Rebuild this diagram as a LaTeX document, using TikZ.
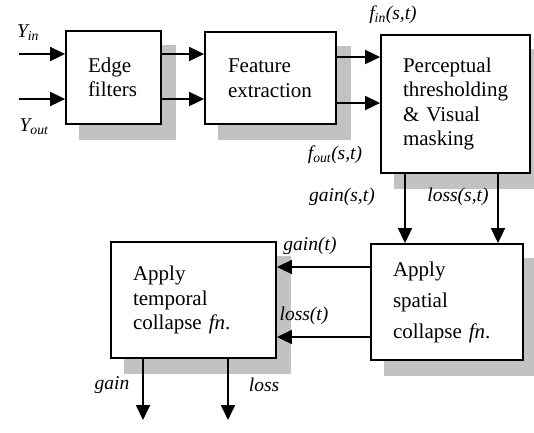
\documentclass[tikz,border=0pt]{standalone}
\usepackage{fontspec}
\setmainfont{Liberation Serif}
\usetikzlibrary{arrows.meta,backgrounds}
\begin{document}
\begin{tikzpicture}[x=1pt,y=-1pt,
  blk/.style={draw,line width=1.8pt,fill=white,align=left,inner xsep=22pt,inner ysep=0pt,
    font=\fontsize{21}{24.5}\selectfont},
  shad/.style={fill=black!24},
  arr/.style={line width=1.8pt,-{Triangle[length=15pt,width=14pt]}},
  lab/.style={font=\fontsize{19.5}{22}\selectfont\itshape,inner sep=0pt}]
\useasboundingbox (0,0) rectangle (534,432);
% boxes
\node[blk,minimum width=95pt,minimum height=93pt,text width=51pt,inner xsep=22pt] (edge) at (113.5,77.5) {Edge\\filters};
\node[blk,minimum width=131pt,minimum height=92pt,text width=85pt,inner xsep=23pt] (feat) at (270.5,78) {Feature\\extraction};
\node[blk,minimum width=149pt,minimum height=138pt,text width=105pt] (perc) at (455.5,104) {Perceptual\\thresholding\\\& Visual\\masking};
\node[blk,minimum width=165pt,minimum height=116pt,text width=121pt] (temp) at (193.5,300) {Apply\\temporal\\collapse \textit{fn}.};
\node[blk,minimum width=152pt,minimum height=116pt,text width=108pt,font=\fontsize{21}{31}\selectfont] (spat) at (447,302) {Apply\\spatial\\collapse \textit{fn}.};
% shadows
\begin{scope}[on background layer]
\foreach \n in {edge,feat,perc,temp,spat}
  \fill[shad] ([shift={(14,15)}]\n.north west) rectangle ([shift={(14,15)}]\n.south east);
\end{scope}
% coordinates
\coordinate (yin) at (19,54);
\coordinate (yout) at (19,99);
\coordinate (fi) at (0,57);
\coordinate (fo) at (0,103);
\coordinate (gx) at (405,0);
\coordinate (lx) at (498,0);
\coordinate (gt) at (0,267);
\coordinate (lt) at (0,337);
\coordinate (go) at (143,420);
\coordinate (lo) at (228,420);
% connectors
\draw[arr] (yin) -- (yin -| edge.west);
\draw[arr] (yout) -- (yout -| edge.west);
\draw[arr] (edge.east |- yin) -- (feat.west |- yin);
\draw[arr] (edge.east |- yout) -- (feat.west |- yout);
\draw[arr] (feat.east |- fi) -- (perc.west |- fi);
\draw[arr] (feat.east |- fo) -- (perc.west |- fo);
\draw[arr] (perc.south -| gx) -- (spat.north -| gx);
\draw[arr] (perc.south -| lx) -- (spat.north -| lx);
\draw[arr] (spat.west |- gt) -- (temp.east |- gt);
\draw[arr] (spat.west |- lt) -- (temp.east |- lt);
\draw[arr] (temp.south -| go) -- (go);
\draw[arr] (temp.south -| lo) -- (lo);
% labels
\node[lab] (lyin) at (28,33) {Y\textsubscript{in}};
\node[lab] (lyout) at (34,127) {Y\textsubscript{out}};
\node[lab] (lfin) at (393,15) {f\textsubscript{in}(s,t)};
\node[lab] (lfout) at (335,155) {f\textsubscript{out}(s,t)};
\node[lab] (lgst) at (342,197) {gain(s,t)};
\node[lab] (llst) at (458,197) {loss(s,t)};
\node[lab] (lgt) at (310,246) {gain(t)};
\node[lab] (llt) at (304,316) {loss(t)};
\node[lab] (lg) at (112,385) {gain};
\node[lab] (ll) at (264,385) {loss};
\end{tikzpicture}
\end{document}
